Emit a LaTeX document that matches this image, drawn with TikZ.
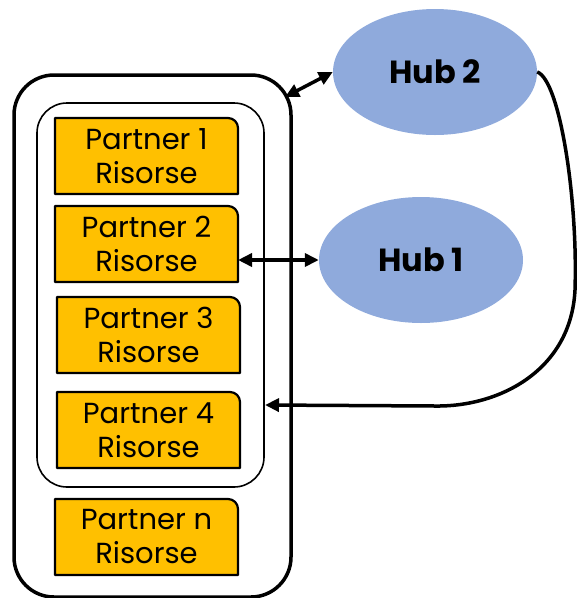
\documentclass[tikz,border=0pt]{standalone}
\usepackage{fontspec}
\setmainfont{Poppins}
\usetikzlibrary{arrows.meta,backgrounds,calc,shapes.geometric}
\definecolor{partnerfill}{HTML}{FFC000}
\definecolor{hubfill}{HTML}{8FAADC}
\tikzset{
  partner/.style={minimum width=183pt, minimum height=76pt, inner sep=0pt, outer sep=0pt,
    align=center, font=\fontsize{29}{34}\selectfont},
  partnerbox/.style={fill=partnerfill, draw=black, line width=2.2pt, line join=round},
  hub/.style={ellipse, fill=hubfill, minimum width=204pt, minimum height=126pt, inner sep=0pt,
    font=\fontsize{32}{36}\selectfont\bfseries},
  frame/.style={draw=black, inner sep=0pt, outer sep=0pt},
  tip/.tip={Triangle[length=14pt,width=13pt]},
  conn/.style={line width=3.5pt, tip-tip},
  conn1/.style={line width=3.5pt, -tip},
}
\begin{document}
\begin{tikzpicture}[x=1pt,y=-1pt]
\useasboundingbox (0,0) rectangle (577,598);
\node[frame, line width=3.5pt, rounded corners=40pt, minimum width=277pt, minimum height=522pt] (outer) at (152.5,336) {};
\node[frame, line width=1.6pt, rounded corners=30pt, minimum width=227pt, minimum height=384pt] (inner) at (150.5,295) {};
\node[partner] (p1) at (146.5,156) {Partner 1\\Risorse};
\node[partner] (p2) at (146.5,244) {Partner 2\\Risorse};
\node[partner] (p3) at (148.5,335) {Partner 3\\Risorse};
\node[partner] (p4) at (148.5,430) {Partner 4\\Risorse};
\node[partner] (pn) at (146.5,537) {Partner n\\Risorse};
\begin{scope}[on background layer]
\foreach \n in {p1,p2,p3,p4,pn}
  \draw[partnerbox] (\n.south west) -- (\n.north west) [rounded corners=10pt] -- (\n.north east) [sharp corners] -- (\n.south east) -- cycle;
\end{scope}
\node[hub] (hub2) at (435,72) {Hub 2};
\node[hub] (hub1) at (421,260) {Hub 1};
\coordinate (o2) at ([xshift=-6pt,yshift=-22pt]outer.north east);
\coordinate (i4) at (265,405);
\draw[conn] (o2) -- (hub2.west);
\draw[conn] (p2.east |- hub1.west) -- (hub1.west);
\draw[conn1] (hub2.east) .. controls (560,80) and (578,200) .. (575,290) .. controls (571,370) and (500,407) .. (435,406) -- (i4);
\end{tikzpicture}
\end{document}
